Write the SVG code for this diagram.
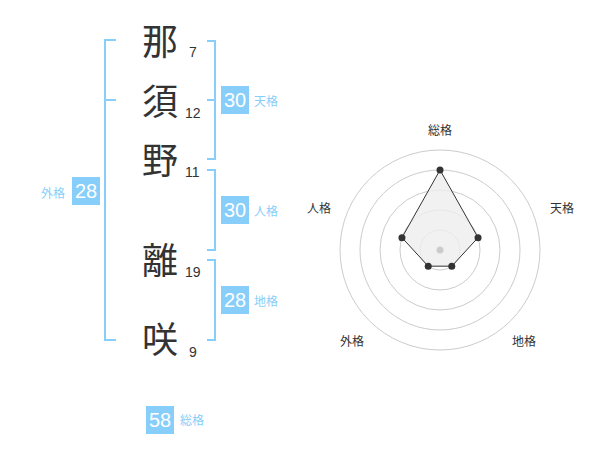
<svg xmlns="http://www.w3.org/2000/svg" width="600" height="470" viewBox="0 0 600 470">
<style>
.kanji{font-family:"Noto Sans CJK JP","Noto Sans CJK SC",sans-serif;font-size:36px;fill:#333;text-anchor:middle}
.num{font-family:"Liberation Sans",Arial,sans-serif;font-size:14px;fill:#333}
.br{fill:none;stroke:#87cefa;stroke-width:2}
.box{fill:#87cefa}
.bt{font-family:"Liberation Sans",Arial,sans-serif;font-size:20px;fill:#fff;text-anchor:middle}
.lbl{font-family:"Noto Sans CJK JP",sans-serif;font-size:12px;fill:#87cefa}
.ring{fill:none;stroke:#ccc;stroke-width:1}
.rl{font-family:"Noto Sans CJK JP",sans-serif;font-size:12px;fill:#333;text-anchor:middle}
.pt{fill:#333}
</style>
<g id="chars">
<g id="c1"><text class="kanji" x="160" y="55">那</text><text class="num" x="189" y="57">7</text></g>
<g id="c2"><text class="kanji" x="160" y="115">須</text><text class="num" x="185" y="118">12</text></g>
<g id="c3"><text class="kanji" x="160" y="174">野</text><text class="num" x="185" y="177">11</text></g>
<g id="c4"><text class="kanji" x="160" y="274">離</text><text class="num" x="185" y="277">19</text></g>
<g id="c5"><text class="kanji" x="160" y="353">咲</text><text class="num" x="189" y="357">9</text></g>
</g>
<g id="connectors">
<path class="br" d="M116,40 H105 V340 H116 M105,100 H116"/>
<path class="br" d="M207,41 H215 V159 H207 M207,100 H215"/>
<path class="br" d="M207,170 H215 V250 H207"/>
<path class="br" d="M207,260 H215 V340 H207"/>
</g>
<g id="gaikaku"><rect class="box" x="72" y="177" width="28" height="28"/><text class="bt" x="86" y="198">28</text><text class="lbl" x="41" y="198">外格</text></g>
<g id="tenkaku"><rect class="box" x="221" y="86" width="28" height="28"/><text class="bt" x="235" y="107">30</text><text class="lbl" x="254" y="106">天格</text></g>
<g id="jinkaku"><rect class="box" x="221" y="196" width="28" height="28"/><text class="bt" x="235" y="217">30</text><text class="lbl" x="254" y="216">人格</text></g>
<g id="chikaku"><rect class="box" x="221" y="286" width="28" height="28"/><text class="bt" x="235" y="307">28</text><text class="lbl" x="254" y="306">地格</text></g>
<g id="soukaku"><rect class="box" x="146" y="406" width="28" height="28"/><text class="bt" x="160" y="427">58</text><text class="lbl" x="180" y="425">総格</text></g>
<g id="radar">
<circle class="ring" cx="440" cy="250" r="20"/>
<circle class="ring" cx="440" cy="250" r="40"/>
<circle class="ring" cx="440" cy="250" r="60"/>
<circle class="ring" cx="440" cy="250" r="80"/>
<circle class="ring" cx="440" cy="250" r="100"/>
<polygon points="440,170 478.04,237.64 451.76,266.18 428.24,266.18 401.96,237.64" fill="#eee" fill-opacity="0.8" stroke="#333" stroke-width="1"/>
<circle cx="440" cy="250" r="3.5" fill="#ccc"/>
<circle class="pt" cx="440" cy="170" r="3.5"/>
<circle class="pt" cx="478.04" cy="237.64" r="3.5"/>
<circle class="pt" cx="451.76" cy="266.18" r="3.5"/>
<circle class="pt" cx="428.24" cy="266.18" r="3.5"/>
<circle class="pt" cx="401.96" cy="237.64" r="3.5"/>
<text class="rl" x="440" y="135">総格</text>
<text class="rl" x="562" y="213">天格</text>
<text class="rl" x="524" y="346">地格</text>
<text class="rl" x="352" y="346">外格</text>
<text class="rl" x="319" y="213">人格</text>
</g>
</svg>
